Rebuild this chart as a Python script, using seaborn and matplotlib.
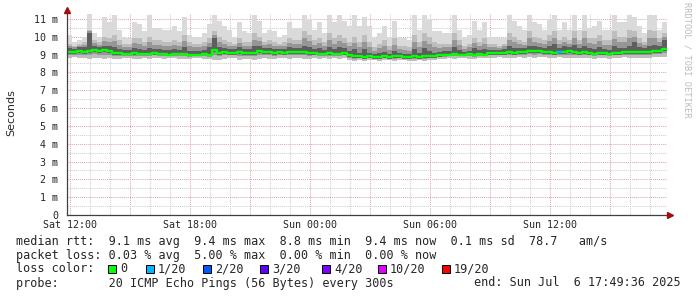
import numpy as np
import pandas as pd
import matplotlib
matplotlib.use("Agg")
import matplotlib.pyplot as plt
from matplotlib.patches import Rectangle
import seaborn as sns

# ---------------- data (15-minute samples, Sat 11:49:36 -> Sun 17:49:36) ----------------
median_ms = [9.15, 9.15, 9.2, 9.15, 9.2, 9.25, 9.2, 9.25, 9.2, 9.1, 9.1, 9.05, 9.05, 9.1, 9.05,
             9.05, 9.05, 9.1, 9.05, 9.05, 9.0, 9.05, 9.05, 9.05,
             9.0, 9.0, 9.0, 9.05, 9.0, 9.25, 9.1, 9.15, 9.1, 9.1, 9.15, 9.1, 9.1, 9.1, 9.2,
             9.15, 9.15, 9.1, 9.15, 9.1, 9.15, 9.15, 9.15, 9.15,
             9.1, 9.1, 9.05, 9.05, 9.1, 9.05, 9.05, 9.1,
             8.95, 8.9, 8.9, 8.85, 8.9, 8.85, 8.85, 8.9, 8.85, 8.9, 8.9, 8.85, 8.85, 8.9, 8.85, 8.9,
             8.9, 8.9, 8.95, 9.0, 9.0, 9.05, 9.0, 9.0, 9.05, 9.0,
             9.05, 9.0, 9.1, 9.1, 9.1, 9.1, 9.15, 9.1, 9.15, 9.15, 9.2, 9.2, 9.2, 9.15,
             9.15, 9.1, 9.15, 9.15, 9.2, 9.15, 9.1, 9.15, 9.1, 9.05, 9.1, 9.1, 9.05, 9.1,
             9.1, 9.15, 9.15, 9.15, 9.15, 9.15, 9.15, 9.2, 9.2, 9.3]
smoke_max = [10.1, 9.7, 9.8, 10.0, 11.3, 10.2, 10.0, 11.1, 10.8, 11.2, 10.4, 10.0, 9.9, 10.8, 10.7,
             10.3, 11.2, 10.5, 10.5, 10.4, 10.4, 10.6, 10.3, 11.1,
             10.1, 10.0, 10.0, 10.2, 10.7, 11.2, 10.9, 10.6, 10.4, 10.0, 10.8, 10.3, 10.2, 11.2,
             10.9, 10.2, 10.4, 10.3, 10.0, 10.1, 10.8, 10.5, 10.5, 11.2,
             11.0, 10.4, 10.8, 10.2, 11.2, 10.8, 11.2, 10.9, 10.6, 11.2, 10.6, 11.1, 10.6, 9.9,
             10.2, 10.6, 10.0, 10.9, 10.0, 9.9, 9.8, 11.2, 10.4, 11.2,
             11.0, 10.3, 10.3, 10.2, 10.2, 11.2, 10.4, 9.9, 10.1, 10.9, 10.4, 10.8, 10.0, 10.0,
             9.9, 9.9, 11.2, 10.9, 10.6, 10.4, 11.2, 10.8, 10.7, 10.4,
             11.0, 11.2, 10.4, 10.8, 10.4, 11.2, 10.4, 11.2, 10.5, 10.6, 10.9, 10.4, 10.4, 11.2,
             10.8, 10.8, 11.2, 11.1, 10.6, 10.2, 11.2, 11.2, 10.4, 10.8]
smoke_hi = [9.6, 9.5, 9.6, 9.7, 10.4, 9.8, 9.7, 10.0, 9.9, 10.1, 9.8, 9.6, 9.6, 9.9, 9.9, 9.7,
            10.0, 9.8, 9.8, 9.7, 9.7, 9.8, 9.7, 10.1,
            9.7, 9.6, 9.6, 9.7, 9.9, 10.3, 10.0, 9.8, 9.7, 9.6, 9.9, 9.7, 9.7, 10.2, 10.0, 9.7,
            9.8, 9.7, 9.6, 9.7, 9.9, 9.8, 9.8, 10.3,
            10.1, 9.8, 9.9, 9.7, 10.2, 9.9, 10.1, 9.9, 9.7, 10.0, 9.7, 10.1, 9.7, 9.4, 9.6, 9.8,
            9.5, 9.9, 9.5, 9.5, 9.4, 10.1, 9.7, 10.2,
            10.0, 9.7, 9.6, 9.6, 9.6, 10.2, 9.8, 9.5, 9.6, 9.9, 9.7, 9.9, 9.6, 9.6, 9.5, 9.6,
            10.2, 10.0, 9.8, 9.7, 10.3, 10.0, 9.9, 9.8,
            10.1, 10.3, 9.8, 10.0, 9.8, 10.3, 9.8, 10.3, 9.9, 9.9, 10.1, 9.8, 9.8, 10.3, 10.0,
            10.0, 10.4, 10.3, 9.9, 9.7, 10.4, 10.3, 9.9, 10.2]
smoke_dark = [9.35, 9.3, 9.4, 9.4, 10.2, 9.5, 9.4, 9.5, 9.45, 9.4, 9.3, 9.25, 9.25, 9.35, 9.3,
              9.25, 9.35, 9.3, 9.3, 9.25, 9.25, 9.3, 9.25, 9.4,
              9.2, 9.2, 9.2, 9.25, 9.4, 9.9, 9.4, 9.35, 9.3, 9.3, 9.4, 9.3, 9.3, 9.45, 9.5, 9.35,
              9.35, 9.3, 9.3, 9.3, 9.4, 9.35, 9.35, 9.5,
              9.4, 9.3, 9.35, 9.25, 9.4, 9.3, 9.4, 9.35, 9.2, 9.3, 9.1, 9.3, 9.1, 9.05, 9.1, 9.15,
              9.05, 9.2, 9.1, 9.05, 9.05, 9.3, 9.1, 9.35,
              9.2, 9.1, 9.15, 9.2, 9.2, 9.4, 9.25, 9.15, 9.2, 9.35, 9.25, 9.3, 9.25, 9.25, 9.25,
              9.3, 9.45, 9.35, 9.35, 9.35, 9.5, 9.45, 9.4, 9.35,
              9.45, 9.6, 9.35, 9.45, 9.4, 9.55, 9.35, 9.5, 9.35, 9.3, 9.4, 9.3, 9.25, 9.45, 9.35,
              9.35, 9.5, 9.7, 9.4, 9.35, 9.5, 9.55, 9.45, 9.8]
smoke_lo = [8.8, 8.85, 8.8, 8.8, 8.75, 8.8, 8.8, 8.75, 8.8, 8.75, 8.75, 8.8, 8.8, 8.75, 8.75,
            8.8, 8.75, 8.8, 8.8, 8.75, 8.8, 8.8, 8.75, 8.75,
            8.75, 8.8, 8.8, 8.75, 8.75, 8.7, 8.7, 8.75, 8.8, 8.8, 8.7, 8.75, 8.75, 8.7, 8.75,
            8.8, 8.75, 8.75, 8.8, 8.8, 8.75, 8.8, 8.8, 8.75,
            8.75, 8.8, 8.75, 8.8, 8.75, 8.8, 8.75, 8.8, 8.7, 8.65, 8.7, 8.65, 8.7, 8.7, 8.65,
            8.7, 8.7, 8.65, 8.7, 8.7, 8.65, 8.65, 8.7, 8.65,
            8.7, 8.7, 8.75, 8.75, 8.8, 8.75, 8.8, 8.8, 8.75, 8.75, 8.8, 8.8, 8.8, 8.8, 8.85,
            8.8, 8.8, 8.8, 8.85, 8.8, 8.85, 8.8, 8.85, 8.85,
            8.8, 8.8, 8.85, 8.8, 8.8, 8.8, 8.8, 8.8, 8.8, 8.75, 8.8, 8.8, 8.75, 8.8, 8.8, 8.85,
            8.8, 8.8, 8.8, 8.8, 8.8, 8.85, 8.85, 8.85]
loss_count = [0] * 120
loss_count[98] = 1

x_tick_labels = ["Sat 12:00", "Sat 18:00", "Sun 00:00", "Sun 06:00", "Sun 12:00"]
x_tick_hours = [0, 6, 12, 18, 24]
y_tick_values = [0, 1, 2, 3, 4, 5, 6, 7, 8, 9, 10, 11]
y_tick_labels = ["0", "1 m", "2 m", "3 m", "4 m", "5 m", "6 m", "7 m", "8 m", "9 m", "10 m", "11 m"]

loss_levels = ["0", "1/20", "2/20", "3/20", "4/20", "10/20", "19/20"]
loss_colors = ["#00ff00", "#00b8ff", "#0059ff", "#5e00ff", "#7e00ff", "#dd00ff", "#ff0000"]

legend_rtt = "median rtt:  9.1 ms avg  9.4 ms max  8.8 ms min  9.4 ms now  0.1 ms sd  78.7   am/s"
legend_loss = "packet loss: 0.03 % avg  5.00 % max  0.00 % min  0.00 % now"
legend_probe = "probe:       20 ICMP Echo Pings (56 Bytes) every 300s"
legend_end = "end: Sun Jul  6 17:49:36 2025"

# ---------------- layout ----------------
W, H = 697, 297
sns.set_style("white")
plt.rcParams["font.family"] = ["DejaVu Sans Mono", "DejaVu Sans"]
fig = plt.figure(figsize=(W / 100, H / 100), dpi=100)
fig.patch.set_facecolor("white")

ax_l, ax_r, ax_t, ax_b = 66.5, 666.5, 13.5, 215
ax = fig.add_axes([ax_l / W, 1 - ax_b / H, (ax_r - ax_l) / W, (ax_b - ax_t) / H])
ax.set_facecolor("white")

start = -(10 + 24 / 60) / 60  # 11:49:36 relative to 12:00 in hours
step = 0.25
n = len(median_ms)
t = start + step * np.arange(n + 1)

def ext(a):
    a = np.asarray(a, dtype=float)
    return np.append(a, a[-1])

med = np.array(median_ms)
lo = np.array(smoke_lo)
hi = np.array(smoke_hi)
dk = np.array(smoke_dark)
ax.fill_between(t, ext(lo), ext(smoke_max), step="post", color="#dadada", lw=0, zorder=1)
ax.fill_between(t, ext(lo), ext(hi), step="post", color="#bdbdbd", lw=0, zorder=2)
ax.fill_between(t, ext((lo + med) / 2), ext((hi + dk) / 2), step="post", color="#969696",
                lw=0, zorder=3)
ax.fill_between(t, ext(med - 0.1), ext(dk), step="post", color="#5e5e5e", lw=0, zorder=4)

df = pd.DataFrame({"t": t, "ms": ext(median_ms)})
sns.lineplot(data=df, x="t", y="ms", drawstyle="steps-post", color=loss_colors[0],
             lw=1.7, ax=ax, zorder=5, estimator=None, sort=False)
for i, lc in enumerate(loss_count):
    if lc > 0:
        ax.plot([t[i], t[i + 1]], [med[i], med[i]], color=loss_colors[1], lw=1.7,
                solid_capstyle="butt", zorder=6)

ax.set_xlim(start, start + 30)
ax.set_ylim(0, 11.3)
ax.set_xlabel("")
ax.set_ylabel("")

# grid
dots = (0, (1, 1))
for h in np.arange(0, 30, 1):
    c = "#e0a8a8" if h % 3 == 0 else "#cfcfcf"
    ax.axvline(h, color=c, lw=0.75, ls=dots, zorder=0)
for v in np.arange(0.5, 11.3, 0.5):
    c = "#e0a8a8" if float(v).is_integer() else "#cfcfcf"
    ax.axhline(v, color=c, lw=0.75, ls=dots, zorder=0)

for s in ["top", "right"]:
    ax.spines[s].set_visible(False)
for s in ["left", "bottom"]:
    ax.spines[s].set_color("#404040")
    ax.spines[s].set_linewidth(0.9)
    ax.spines[s].set_zorder(7)

ax.set_xticks(x_tick_hours)
ax.set_xticklabels(x_tick_labels, fontsize=7.2, family="DejaVu Sans Mono")
ax.set_yticks(y_tick_values)
ax.set_yticklabels(y_tick_labels, fontsize=7.2, family="DejaVu Sans Mono")
ax.tick_params(axis="both", length=2, width=0.7, color="#404040", pad=1.5)
ax.tick_params(axis="y", pad=4)

# axis arrows
ax.plot([start], [11.5], marker="^", ms=4, color="#a01010", clip_on=False, zorder=8)
ax.plot([start + 30.15], [0], marker=">", ms=4, color="#a01010", clip_on=False, zorder=8)

# labels
def px(x, y):
    return x / W, 1 - y / H

fig.text(*px(11, 113), "Seconds", rotation=90, ha="center", va="center",
         fontsize=8, family="DejaVu Sans")
fig.text(*px(687, 60), "RRDTOOL / TOBI OETIKER", rotation=-90, ha="center", va="center",
         fontsize=6.2, color="#bbbbbb", family="DejaVu Sans Mono")

fs = 8.5
fig.text(*px(16, 241), legend_rtt, ha="left", va="center", fontsize=fs)
fig.text(*px(16, 255), legend_loss, ha="left", va="center", fontsize=fs)
fig.text(*px(16, 269), "loss color:", ha="left", va="center", fontsize=fs)
sq_x = [108, 146, 203, 260, 322, 378, 442]
for xq, lab, col in zip(sq_x, loss_levels, loss_colors):
    fig.patches.append(Rectangle(px(xq, 273), 8 / W, 8 / H, transform=fig.transFigure,
                                 facecolor=col, edgecolor="black", lw=0.7, figure=fig))
    fig.text(*px(xq + 12, 269), lab, ha="left", va="center", fontsize=fs)
fig.text(*px(16, 283), legend_probe, ha="left", va="center", fontsize=fs)
fig.text(*px(681, 283), legend_end, ha="right", va="center", fontsize=fs)

fig.savefig("out.png", dpi=100, facecolor="white")
